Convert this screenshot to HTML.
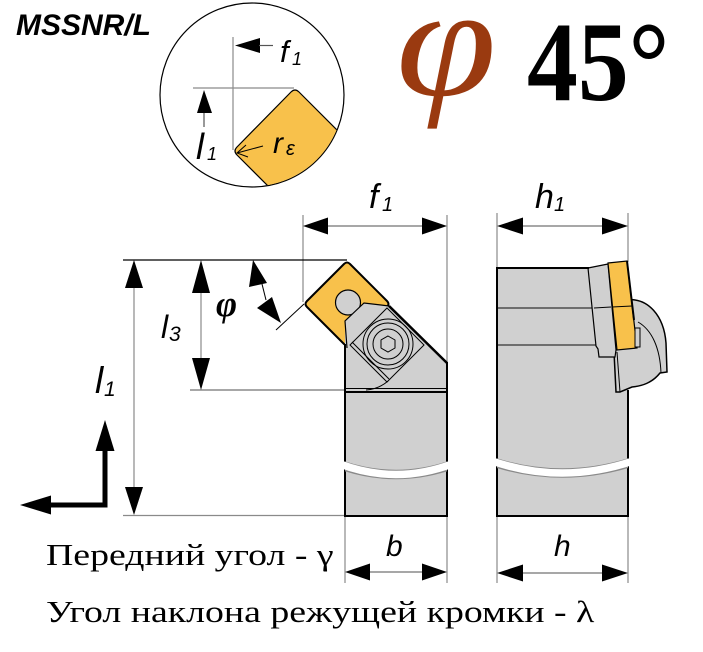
<!DOCTYPE html>
<html><head><meta charset="utf-8">
<style>
html,body{margin:0;padding:0;background:#fff;}
svg{display:block;}
.s{font-family:"Liberation Sans",Arial,sans-serif;font-style:italic;fill:#000;}
.r{font-family:"Liberation Serif","Times New Roman",serif;fill:#000;}
</style></head>
<body>
<svg width="703" height="652" viewBox="0 0 703 652" xmlns="http://www.w3.org/2000/svg">
<defs>
<clipPath id="cc"><circle cx="252" cy="95" r="91.5"/></clipPath>
<clipPath id="cb1"><rect x="345" y="380" width="102" height="140"/></clipPath>
<clipPath id="cb2"><rect x="497" y="380" width="131" height="140"/></clipPath>
</defs>

<!-- Title -->
<text x="16" y="35" class="s" font-weight="bold" font-size="30">MSSNR/L</text>

<!-- Big phi 45 -->
<text x="0" y="0" class="r" font-style="italic" font-size="158" style="fill:#9A3A10" transform="translate(396,95) scale(1.15,1)">φ</text>
<text x="0" y="0" class="r" font-weight="bold" font-size="113" transform="translate(527,100) scale(0.9,1)">45°</text>

<!-- Detail circle -->
<circle cx="252" cy="95" r="92" fill="#fff" stroke="#000" stroke-width="1.2"/>
<g clip-path="url(#cc)">
<path d="M338,256 L237,155 Q233,151 237,147 L291,92 Q295,88 299,92 L400,193 Z" fill="#F8C14B" stroke="#000" stroke-width="1.2"/>
</g>
<line x1="233" y1="37" x2="233" y2="150" stroke="#8a8a8a" stroke-width="1.2"/>
<line x1="193" y1="88" x2="294" y2="88" stroke="#8a8a8a" stroke-width="1.2"/>
<polygon points="235,45.5 260,38 260,53" fill="#000"/>
<line x1="259" y1="45.5" x2="273" y2="45.5" stroke="#555" stroke-width="1.2"/>
<text x="280" y="62" class="s" font-size="31">f</text>
<text x="292" y="65" class="s" font-size="18">1</text>
<polygon points="204,90 197,113 212,113" fill="#000"/>
<line x1="204" y1="113" x2="204" y2="127" stroke="#555" stroke-width="1.2"/>
<text x="196" y="159" class="s" font-size="36">l</text>
<text x="207" y="160" class="s" font-size="18">1</text>
<line x1="263" y1="146" x2="237" y2="153" stroke="#000" stroke-width="1"/>
<polyline points="246,145 237,153 248,157" fill="none" stroke="#000" stroke-width="1"/>
<text x="273" y="153" class="s" font-size="30">r</text>
<text x="286" y="155" class="s" font-size="20">ε</text>

<!-- Main view dimension lines -->
<line x1="303" y1="215" x2="303" y2="302" stroke="#8a8a8a" stroke-width="1.2"/>
<line x1="447" y1="215" x2="447" y2="362" stroke="#8a8a8a" stroke-width="1.2"/>
<line x1="326" y1="226" x2="424" y2="226" stroke="#8a8a8a" stroke-width="1.5"/>
<polygon points="303,226 328,217.5 328,234.5" fill="#000"/>
<polygon points="447,226 422,217.5 422,234.5" fill="#000"/>
<text x="369" y="208" class="s" font-size="34">f</text>
<text x="382" y="211" class="s" font-size="20">1</text>

<line x1="123" y1="260" x2="347" y2="260" stroke="#000" stroke-width="1.2"/>
<line x1="123" y1="515.5" x2="345" y2="515.5" stroke="#8a8a8a" stroke-width="1.2"/>
<line x1="190" y1="390" x2="345" y2="390" stroke="#8a8a8a" stroke-width="1.5"/>

<line x1="134" y1="286" x2="134" y2="489" stroke="#8a8a8a" stroke-width="1.2"/>
<polygon points="134,260 125,288 143,288" fill="#000"/>
<polygon points="134,515 125,487 143,487" fill="#000"/>
<text x="95" y="393" class="s" font-size="37">l</text>
<text x="104" y="396" class="s" font-size="21">1</text>

<line x1="201" y1="290" x2="201" y2="360" stroke="#8a8a8a" stroke-width="1.2"/>
<polygon points="201,260 192,293 210,293" fill="#000"/>
<polygon points="201,390 192,358 210,358" fill="#000"/>
<text x="161" y="338" class="s" font-size="32">l</text>
<text x="169" y="341" class="s" font-size="21">3</text>

<!-- phi angle -->
<polygon points="253,260 249,287 267,283" fill="#000"/>
<line x1="262" y1="284" x2="266" y2="300" stroke="#000" stroke-width="1"/>
<polygon points="257,308 272,297 281,323" fill="#000"/>
<line x1="276" y1="330" x2="304" y2="304" stroke="#000" stroke-width="1"/>
<text x="216" y="316" class="r" font-style="italic" font-weight="bold" font-size="36">φ</text>

<!-- Main holder -->
<path d="M345,516 L345,347 L390,305 L447,362 L447,516 Z" fill="#D0D0D0"/>
<path d="M307,301 L344,264 Q347,261 350,264 L387,301 Q390,304 387,307 L350,344 Q347,347 344,344 L307,307 Q304,304 307,301 Z" fill="#F8C14B" stroke="#000" stroke-width="2"/>
<circle cx="348" cy="302.5" r="12.5" fill="#D0D0D0" stroke="#000" stroke-width="1.2"/>
<path d="M345,321 L364,303 L389,306 L447,362 L447,392 L345,392 Z" fill="#D0D0D0"/>
<polyline points="347,348 345,321 364,303 389,306" fill="none" stroke="#000" stroke-width="1.2"/>
<polygon points="387,308 424,345 387,382 350,345" fill="none" stroke="#000" stroke-width="1"/>
<line x1="352" y1="342" x2="389" y2="379" stroke="#000" stroke-width="1"/>
<path d="M366,390 Q379,389 388,381" fill="none" stroke="#000" stroke-width="1"/>
<circle cx="388" cy="344" r="25" fill="none" stroke="#000" stroke-width="1"/>
<circle cx="388" cy="344" r="21" fill="none" stroke="#000" stroke-width="1"/>
<circle cx="388" cy="344" r="15" fill="none" stroke="#000" stroke-width="1"/>
<polygon points="388,336 395,340 395,348 388,352 381,348 381,340" fill="none" stroke="#000" stroke-width="1"/>
<line x1="345" y1="388.5" x2="447" y2="388.5" stroke="#000" stroke-width="1"/>
<line x1="345" y1="392" x2="447" y2="392" stroke="#000" stroke-width="2"/>
<line x1="389" y1="306" x2="447" y2="363" stroke="#000" stroke-width="2.5"/>
<line x1="345" y1="344" x2="345" y2="517" stroke="#000" stroke-width="2"/>
<line x1="447" y1="362" x2="447" y2="517" stroke="#000" stroke-width="2"/>
<line x1="344" y1="516" x2="448" y2="516" stroke="#000" stroke-width="2"/>
<!-- break -->
<g clip-path="url(#cb1)">
<path d="M338,464 Q396,485 454,464" fill="none" stroke="#8a8a8a" stroke-width="9.5"/>
</g>
<path d="M340,464 Q396,485 452,464" fill="none" stroke="#fff" stroke-width="7.5"/>

<!-- b dimension -->
<line x1="345" y1="517" x2="345" y2="583" stroke="#8a8a8a" stroke-width="1.2"/>
<line x1="447" y1="517" x2="447" y2="583" stroke="#8a8a8a" stroke-width="1.2"/>
<line x1="368" y1="572" x2="424" y2="572" stroke="#8a8a8a" stroke-width="1.5"/>
<polygon points="345,572 370,563.5 370,580.5" fill="#000"/>
<polygon points="447,572 422,563.5 422,580.5" fill="#000"/>
<text x="386" y="556" class="s" font-size="30">b</text>

<!-- Right view -->
<line x1="497" y1="213" x2="497" y2="268" stroke="#8a8a8a" stroke-width="1.2"/>
<line x1="628" y1="213" x2="628" y2="262" stroke="#8a8a8a" stroke-width="1.2"/>
<line x1="521" y1="226" x2="604" y2="226" stroke="#8a8a8a" stroke-width="1.5"/>
<polygon points="497,226 523,217.5 523,234.5" fill="#000"/>
<polygon points="628,226 602,217.5 602,234.5" fill="#000"/>
<text x="535" y="208" class="s" font-size="34">h</text>
<text x="554" y="211" class="s" font-size="20">1</text>

<rect x="497" y="268" width="131" height="248" fill="#D0D0D0"/>
<line x1="497" y1="308" x2="596" y2="308" stroke="#333" stroke-width="1.2"/>
<line x1="497" y1="345" x2="598" y2="345" stroke="#333" stroke-width="1.2"/>
<!-- clamp -->
<path d="M626,300 C648,297 664,316 666,343 L667,372 L660,373 C652,383 642,386 632,387 L620,392 L616,392 L614,352 Z" fill="#D0D0D0" stroke="#000" stroke-width="1.5"/>
<path d="M638,322 C652,330 660,348 661,373" fill="none" stroke="#000" stroke-width="1"/>
<!-- plate -->
<polygon points="588,268 608,264 616,350 615,357 599,357 598,349 596,346" fill="#D0D0D0" stroke="#000" stroke-width="1.2"/>
<line x1="594" y1="308" x2="611" y2="307" stroke="#000" stroke-width="1"/>
<!-- insert side -->
<polygon points="608,263 627,261 637,348 617,350" fill="#F8C14B" stroke="#000" stroke-width="1.2"/>
<line x1="612" y1="307" x2="632" y2="306" stroke="#000" stroke-width="1"/>
<line x1="627" y1="261" x2="634" y2="320" stroke="#000" stroke-width="2"/>
<rect x="635" y="328" width="5" height="19" fill="#D0D0D0" stroke="#000" stroke-width="1"/>
<line x1="617" y1="352" x2="620" y2="392" stroke="#000" stroke-width="1"/>
<!-- body outline -->
<line x1="497" y1="267" x2="497" y2="517" stroke="#000" stroke-width="2"/>
<line x1="496" y1="268" x2="589" y2="268" stroke="#000" stroke-width="2"/>
<line x1="628" y1="390" x2="628" y2="517" stroke="#000" stroke-width="2"/>
<line x1="496" y1="516" x2="629" y2="516" stroke="#000" stroke-width="2"/>
<g clip-path="url(#cb2)">
<path d="M490,461 Q562,485 635,461" fill="none" stroke="#8a8a8a" stroke-width="9.5"/>
</g>
<path d="M492,461 Q562,485 633,461" fill="none" stroke="#fff" stroke-width="7.5"/>

<!-- h dimension -->
<line x1="497" y1="517" x2="497" y2="583" stroke="#8a8a8a" stroke-width="1.2"/>
<line x1="628" y1="517" x2="628" y2="583" stroke="#8a8a8a" stroke-width="1.2"/>
<line x1="521" y1="573" x2="604" y2="573" stroke="#8a8a8a" stroke-width="1.5"/>
<polygon points="497,573 523,564.5 523,581.5" fill="#000"/>
<polygon points="628,573 602,564.5 602,581.5" fill="#000"/>
<text x="554" y="556" class="s" font-size="30">h</text>

<!-- coordinate arrows -->
<polyline points="105,449 105,505 49,505" fill="none" stroke="#000" stroke-width="5"/>
<polygon points="105,420 95.5,451 114.5,451" fill="#000"/>
<polygon points="20,505 51,495.5 51,514.5" fill="#000"/>

<!-- bottom text -->
<text x="0" y="0" class="r" font-size="31" transform="translate(46,565) scale(1.22,1)">Передний угол - γ</text>
<text x="0" y="0" class="r" font-size="31" transform="translate(46,622) scale(1.22,1)">Угол наклона режущей кромки - λ</text>
</svg>
</body></html>
